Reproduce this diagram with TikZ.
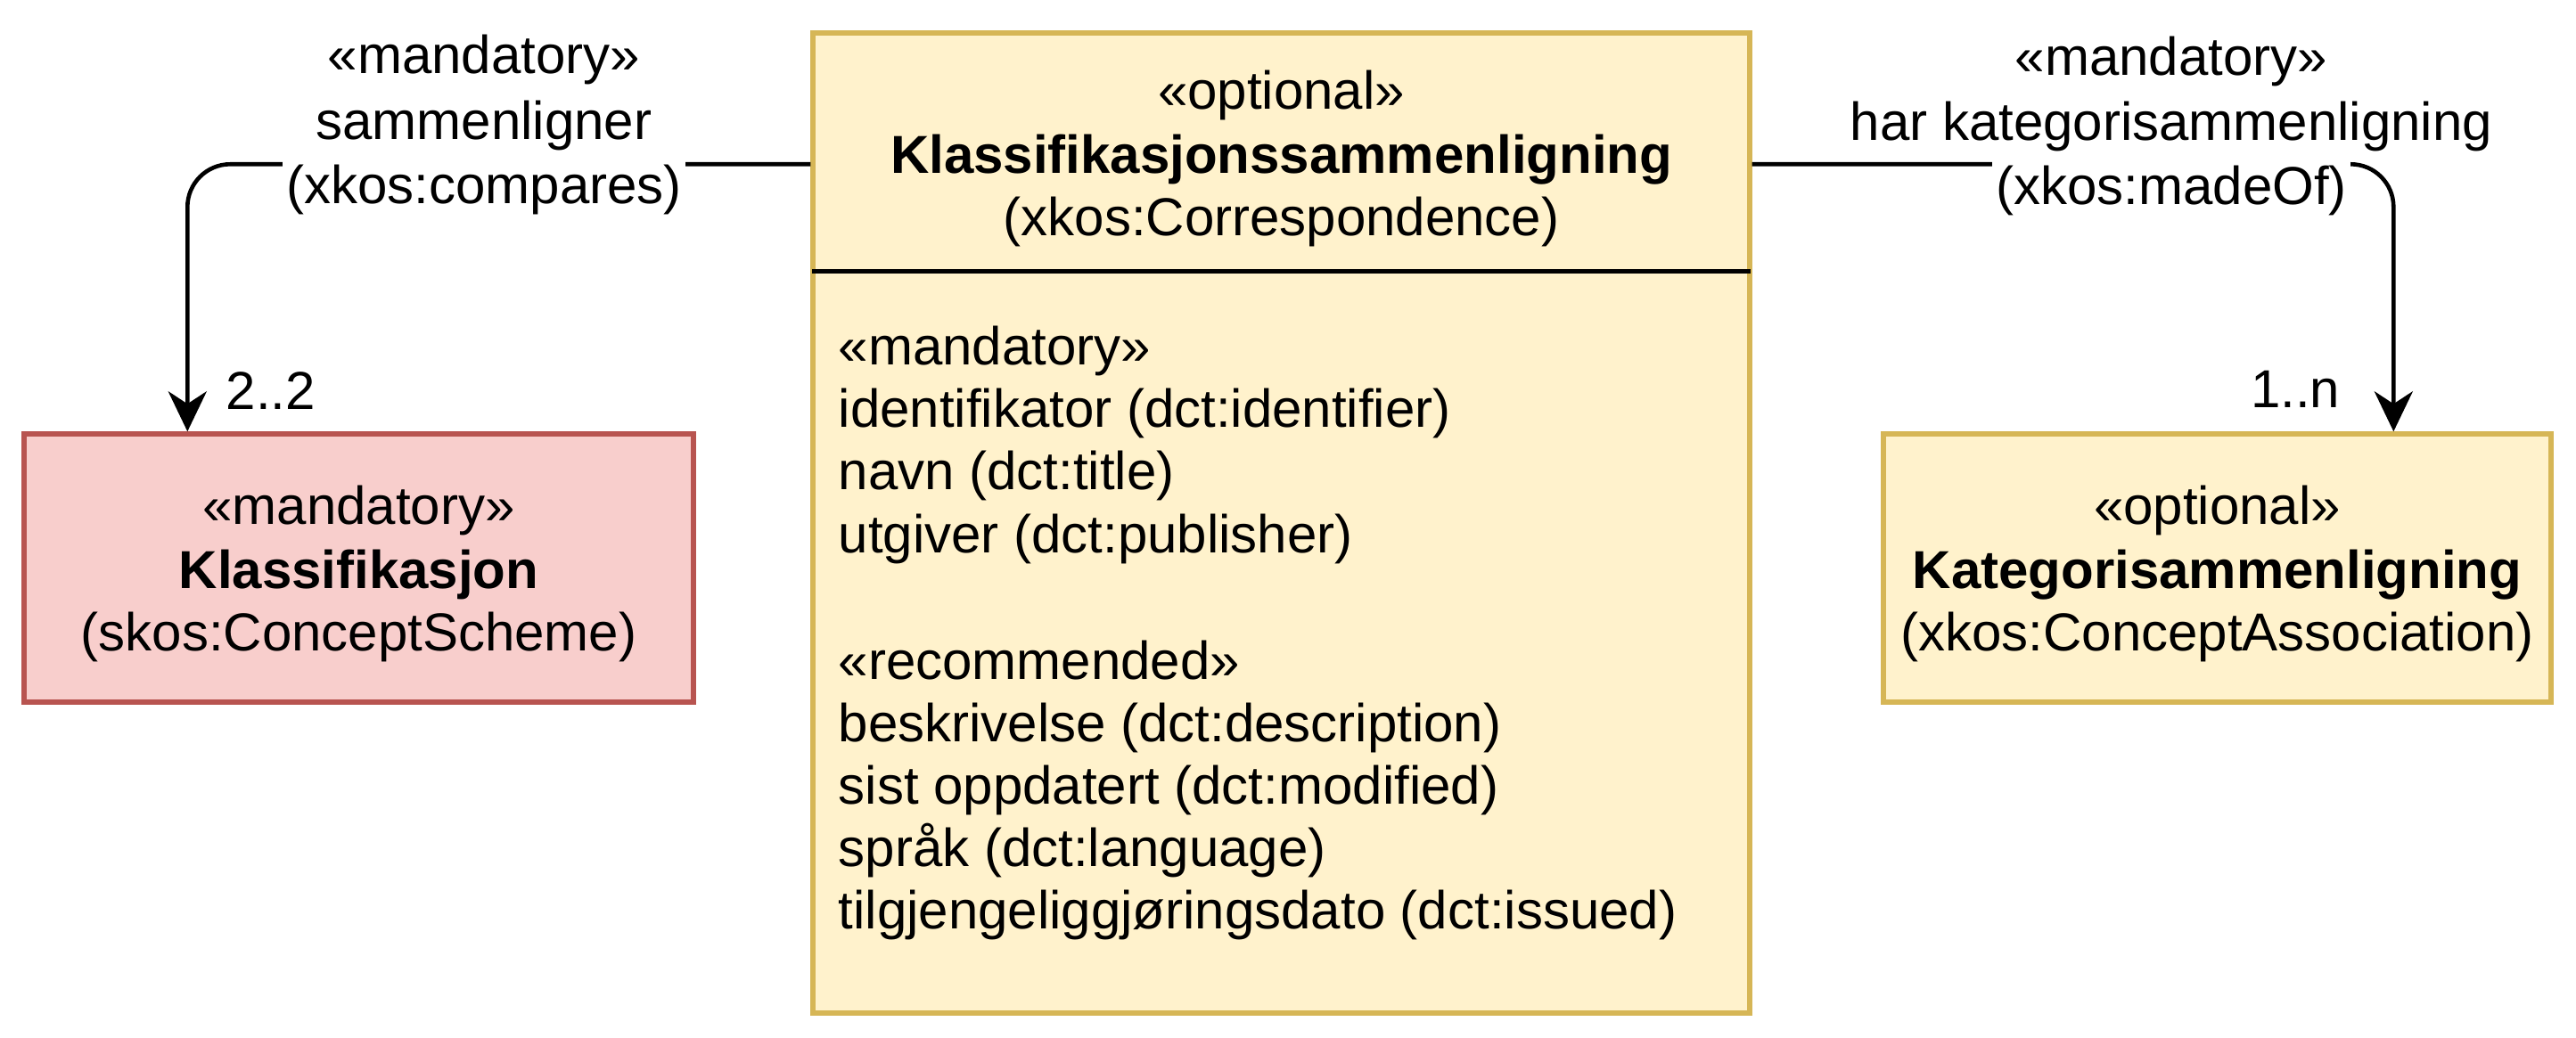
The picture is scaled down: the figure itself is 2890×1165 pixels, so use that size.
\documentclass[tikz,border=0pt]{standalone}
\usepackage{fontspec}
\setmainfont{Liberation Sans}
\usetikzlibrary{arrows.meta,calc}
\definecolor{yfill}{HTML}{FFF2CC}
\definecolor{ystroke}{HTML}{D6B656}
\definecolor{rfill}{HTML}{F8CECC}
\definecolor{rstroke}{HTML}{B85450}
\begin{document}
\begin{tikzpicture}[x=0.25pt,y=-0.25pt,
  txt/.style={font=\fontsize{15}{18}\selectfont, inner sep=0pt},
  boldtxt/.style={font=\fontsize{15}{18}\selectfont\bfseries, inner sep=0pt},
  crosslbl/.style={txt, fill=white, inner xsep=1pt, inner ysep=1.5pt},
  ybox/.style={draw=ystroke, fill=yfill, line width=1.35pt, inner sep=0pt},
  rbox/.style={draw=rstroke, fill=rfill, line width=1.35pt, inner sep=0pt},
  conn/.style={draw=black, line width=1.15pt, rounded corners=12pt,
    -{Stealth[length=11.25pt,width=10.75pt,inset=3.5pt]}}
]
\useasboundingbox (0,0) rectangle (2890,1165);

% boxes
\node[ybox, minimum width=262.75pt, minimum height=275pt] (main) at (1437.5,587) {};
\node[rbox, minimum width=187.75pt, minimum height=75.25pt] (kl) at (402.5,637.5) {};
\node[ybox, minimum width=187.25pt, minimum height=75.25pt] (ka) at (2487.5,637.5) {};

% divider
\draw[line width=1.35pt] ($(main.north west)+(2,270)$) -- ($(main.north east)+(-2,270)$);

% header text of main
\node[txt, anchor=base] (mh1) at (1437.5,123) {«optional»};
\node[boldtxt, anchor=base] (mh2) at (1437.5,195) {Klassifikasjonssammenligning};
\node[txt, anchor=base] (mh3) at (1437.5,265) {(xkos:Correspondence)};

% body text of main
\node[txt, anchor=base west] (b1) at (940,410) {«mandatory»};
\node[txt, anchor=base west] (b2) at (940,480) {identifikator (dct:identifier)};
\node[txt, anchor=base west] (b3) at (940,550) {navn (dct:title)};
\node[txt, anchor=base west] (b4) at (940,620) {utgiver (dct:publisher)};
\node[txt, anchor=base west] (b5) at (940,762) {«recommended»};
\node[txt, anchor=base west] (b6) at (940,832) {beskrivelse (dct:description)};
\node[txt, anchor=base west] (b7) at (940,902) {sist oppdatert (dct:modified)};
\node[txt, anchor=base west] (b8) at (940,972) {språk (dct:language)};
\node[txt, anchor=base west] (b9) at (940,1042) {tilgjengeliggjøringsdato (dct:issued)};

% left box text
\node[txt, anchor=base] (kl1) at (402.5,588) {«mandatory»};
\node[boldtxt, anchor=base] (kl2) at (402.5,660) {Klassifikasjon};
\node[txt, anchor=base] (kl3) at (402.5,730) {(skos:ConceptScheme)};

% right box text
\node[txt, anchor=base] (ka1) at (2487.5,588) {«optional»};
\node[boldtxt, anchor=base] (ka2) at (2487.5,660) {Kategorisammenligning};
\node[txt, anchor=base] (ka3) at (2487.5,730) {(xkos:ConceptAssociation)};

% connectors
\draw[conn] ($(main.north west)+(0,150)$) -| ($(kl.north west)+(186,0)$);
\draw[conn] ($(main.north east)+(0,150)$) -| ($(ka.north west)+(575,0)$);

% left connector label
\node[txt, anchor=base] (ll1) at (543,83) {«mandatory»};
\node[txt, anchor=base] (ll2) at (543,157) {sammenligner};
\node[crosslbl, anchor=base] (ll3) at (543,229) {(xkos:compares)};
\node[txt, anchor=base west] (lm) at (253,460) {2..2};

% right connector label
\node[txt, anchor=base] (rl1) at (2436,85) {«mandatory»};
\node[txt, anchor=base] (rl2) at (2436,158) {har kategorisammenligning};
\node[crosslbl, anchor=base] (rl3) at (2436,230) {(xkos:madeOf)};
\node[txt, anchor=base east] (rm) at (2626,458) {1..n};
\end{tikzpicture}
\end{document}
